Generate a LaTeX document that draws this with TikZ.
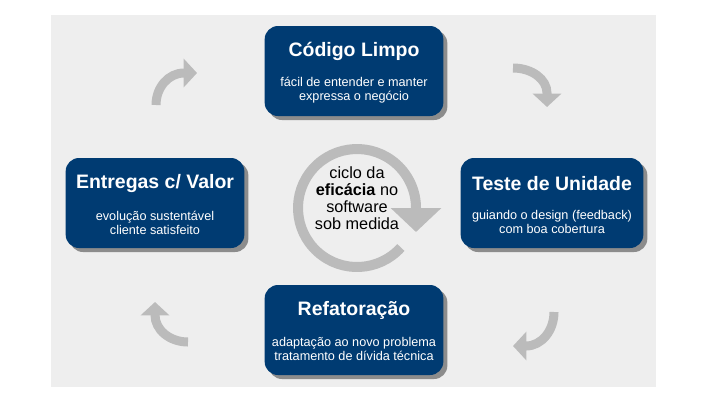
\documentclass[tikz,border=0pt]{standalone}
\usepackage{fontspec}
\setmainfont{Liberation Sans}
\usetikzlibrary{arrows.meta,shadows}
\definecolor{azulcaixa}{RGB}{0,59,114}
\definecolor{cinzaseta}{RGB}{187,187,187}
\definecolor{cinzafundo}{RGB}{238,238,238}
\tikzset{
  caixa/.style={fill=azulcaixa, rounded corners=10pt, minimum width=134pt,
    minimum height=67.5pt, inner sep=0pt,
    drop shadow={shadow xshift=3pt, shadow yshift=-3pt, fill=black!45, opacity=1}},
  titulo/.style={text=white, inner sep=0pt, font=\fontsize{14.6}{17}\selectfont\bfseries},
  sub/.style={text=white, inner sep=0pt, align=center, font=\fontsize{9.5}{10.5}\selectfont},
  seta/.style={draw=cinzaseta, line width=6.75pt, -{Triangle[width=21pt,length=10pt]}},
}

\begin{document}
\begin{tikzpicture}[x=0.75pt,y=-0.75pt]
    \useasboundingbox (0,0) rectangle (712,400);
    \fill[cinzafundo] (51,15) rectangle (656,387);

    % caixas
    \node[caixa] (codigo) at (354,71) {};
    \node[caixa] (entregas) at (155,203) {};
    \node[caixa, minimum width=137pt] (teste) at (552,203) {};
    \node[caixa] (refat) at (354,330) {};

    \node[titulo] (codigo-t) at ([yshift=-19.5pt]codigo.north) {Código Limpo};
    \node[sub] (codigo-s) at ([yshift=-48.5pt]codigo.north) {fácil de entender e manter\\expressa o negócio};
    \node[titulo] (entregas-t) at ([yshift=-19.5pt]entregas.north) {Entregas c/ Valor};
    \node[sub] (entregas-s) at ([yshift=-48.5pt]entregas.north) {evolução sustentável\\cliente satisfeito};
    \node[titulo] (teste-t) at ([yshift=-19.5pt]teste.north) {Teste de Unidade};
    \node[sub] (teste-s) at ([yshift=-48.5pt]teste.north) {guiando o design (feedback)\\com boa cobertura};
    \node[titulo] (refat-t) at ([yshift=-19.5pt]refat.north) {Refatoração};
    \node[sub] (refat-s) at ([yshift=-48.5pt]refat.north) {adaptação ao novo problema\\tratamento de dívida técnica};

    % ciclo central
    \coordinate (centro) at (357,208);
    \draw[seta, line width=7.5pt, -{Triangle[width=37pt,length=18pt]}]
      (centro) ++(42:59) arc[start angle=42, end angle=360, radius=59] -- ++(0,24);
    \node[align=center, inner sep=0pt, font=\fontsize{12.2}{12.8}\selectfont]
      (ciclo) at (357,198) {ciclo da\\\textbf{eficácia} no\\software\\sob medida};

    % setas pequenas
    \coordinate (s1) at (156,105);
    \coordinate (s2) at (513,68);
    \coordinate (s3) at (554,312);
    \coordinate (s4) at (188,342);
    \draw[seta] (s1) arc[start angle=180, end angle=270, x radius=28, y radius=32] -- ++(13,0);
    \draw[seta] (s2) arc[start angle=270, end angle=360, x radius=34, y radius=25] -- ++(0,14);
    \draw[seta] (s3) arc[start angle=0, end angle=90, x radius=28, y radius=34] -- ++(-13,0);
    \draw[seta] (s4) arc[start angle=90, end angle=180, x radius=33, y radius=27] -- ++(0,-13);
\end{tikzpicture}
\end{document}
